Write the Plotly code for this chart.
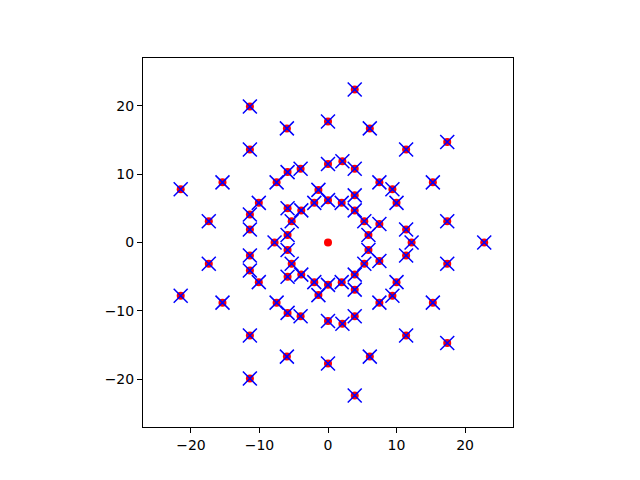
import plotly.graph_objects as go

# point positions, ring by ring (upper half then lower half)
ring_a_x = [5.9, 5.3, 3.9, 2.0, 0.0, -2.0, -3.9, -5.3, -5.9,
            5.9, 5.3, 3.9, 2.0, 0.0, -2.0, -3.9, -5.3, -5.9]
ring_a_y = [1.1, 3.1, 4.7, 5.8, 6.2, 5.8, 4.7, 3.1, 1.1,
            -1.1, -3.1, -4.7, -5.8, -6.2, -5.8, -4.7, -3.1, -1.1]

ring_b_x = [7.5, 3.9, -1.4, -5.9, -7.8, -5.9, -1.4, 3.9, 7.5]
ring_b_y = [2.7, 6.9, 7.7, 5.0, 0.0, -5.0, -7.7, -6.9, -2.7]

ring_c_x = [11.4, 10.0, 7.5, 3.9, 0.0, -4.0, -7.5, -10.1, -11.4,
            11.4, 10.0, 7.5, 3.9, 0.0, -4.0, -7.5, -10.1, -11.4]
ring_c_y = [1.9, 5.8, 8.8, 10.8, 11.5, 10.8, 8.8, 5.8, 1.9,
            -1.9, -5.8, -8.8, -10.8, -11.5, -10.8, -8.8, -5.8, -1.9]

ring_d_x = [12.2, 9.4, 2.1, -5.9, -11.4, -11.4, -5.9, 2.1, 9.4]
ring_d_y = [0.0, 7.8, 11.9, 10.3, 4.1, -4.1, -10.3, -11.9, -7.8]

ring_e_x = [17.4, 15.3, 11.4, 6.1, 0.0, -6.0, -11.4, -15.4, -17.4,
            17.4, 15.3, 11.4, 6.1, 0.0, -6.0, -11.4, -15.4, -17.4]
ring_e_y = [3.1, 8.8, 13.6, 16.7, 17.7, 16.7, 13.6, 8.8, 3.1,
            -3.1, -8.8, -13.6, -16.7, -17.7, -16.7, -13.6, -8.8, -3.1]

ring_f_x = [22.8, 17.4, 3.9, -11.4, -21.5, -21.5, -11.4, 3.9, 17.4]
ring_f_y = [0.0, 14.7, 22.4, 19.9, 7.8, -7.8, -19.9, -22.4, -14.7]

centre_x = [0.0]
centre_y = [0.0]

tick_vals = [-20, -10, 0, 10, 20]
tick_text = ["\u221220", "\u221210", "0", "10", "20"]

pts_x = ring_a_x + ring_b_x + ring_c_x + ring_d_x + ring_e_x + ring_f_x
pts_y = ring_a_y + ring_b_y + ring_c_y + ring_d_y + ring_e_y + ring_f_y

fig = go.Figure()
# red dots, centre included
fig.add_trace(go.Scatter(x=centre_x + pts_x, y=centre_y + pts_y, mode="markers",
                         marker=dict(symbol="circle", size=8, color="#ff0000",
                                     line=dict(width=0)),
                         showlegend=False, hoverinfo="skip"))
# blue crosses on top, no cross on the centre
fig.add_trace(go.Scatter(x=pts_x, y=pts_y, mode="markers",
                         marker=dict(symbol="x-thin", size=14,
                                     line=dict(width=1.5, color="#0000ff")),
                         showlegend=False, hoverinfo="skip"))

axis_style = dict(range=[-27, 27], tickvals=tick_vals, ticktext=tick_text,
                  showgrid=False, zeroline=False, showline=True, mirror=True,
                  linecolor="black", linewidth=1, ticks="outside", ticklen=5,
                  tickwidth=1, tickcolor="black",
                  tickfont=dict(family="DejaVu Sans", size=14, color="black"))

# page adds an 8px offset, so margins are shifted to compensate
fig.update_layout(width=640, height=480,
                  margin=dict(l=135, r=135, t=50, b=61),
                  paper_bgcolor="white", plot_bgcolor="white",
                  xaxis=axis_style, yaxis=axis_style)

fig.write_html("out.html")
